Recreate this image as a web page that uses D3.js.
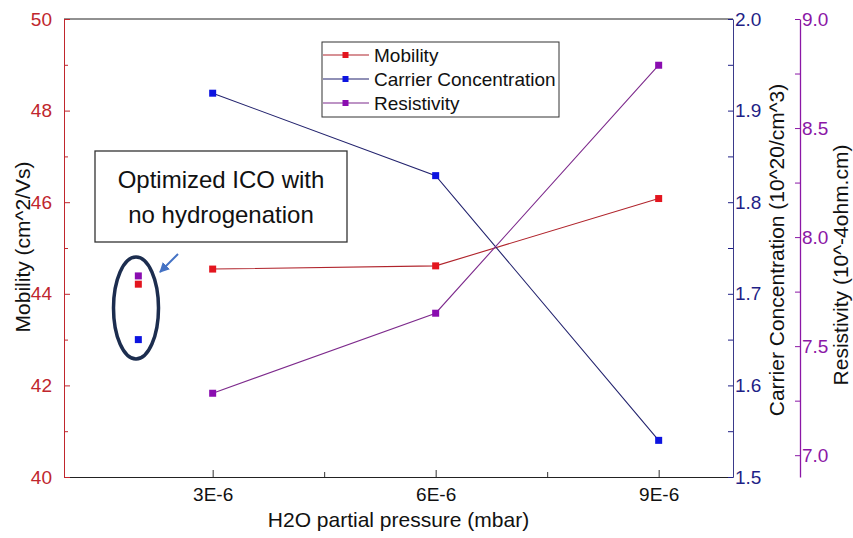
<!DOCTYPE html>
<html>
<head>
<meta charset="utf-8">
<script src="https://cdn.jsdelivr.net/npm/d3@7"></script>
<style>
  html, body { margin: 0; padding: 0; background: #fff; }
  svg { display: block; }
  text { font-family: "Liberation Sans", Arial, sans-serif; }
</style>
</head>
<body>
<svg id="chart" width="853" height="538"></svg>
<script>
// H2O partial pressure (units of 1E-6 mbar)
const pressures = [3, 6, 9];
const pressureTicks = [3, 6, 9];
const pressureTickLabels = ["3E-6", "6E-6", "9E-6"];

// Measured series
const mobility = [44.54, 44.61, 46.08];            // cm^2/Vs
const carrierConcentration = [1.919, 1.829, 1.540]; // 10^20/cm^3
const resistivity = [7.284, 7.651, 8.788];          // 10^-4 ohm.cm

// Reference sample (optimized ICO, no hydrogenation), plotted at 2E-6
const referencePressure = 2;
const referenceMobility = 44.21;
const referenceCarrier = 1.650;
const referenceResistivity = 7.822;

const mobilityTicks = [40, 42, 44, 46, 48, 50];
const carrierTicks = [1.5, 1.6, 1.7, 1.8, 1.9, 2.0];
const resistivityTicks = [7.0, 7.5, 8.0, 8.5, 9.0];

const seriesNames = ["Mobility", "Carrier Concentration", "Resistivity"];

const svg = d3.select("#chart");

const plotLeft = 64, plotRight = 733, plotTop = 19, plotBottom = 477;
const resAxisX = 800;
const tickFont = 19, titleFont = 21;

const x = d3.scaleLinear().domain([1, 10]).range([plotLeft, plotRight]);
const yMob = d3.scaleLinear().domain([40, 50]).range([plotBottom, plotTop]);
const yCar = d3.scaleLinear().domain([1.5, 2.0]).range([plotBottom, plotTop]);
const yRes = d3.scaleLinear().domain([6.9, 9.0]).range([plotBottom, plotTop]);

const colors = {
  mobLine: "#b0242c", mobMark: "#e3151e", mobAxis: "#c0262d",
  carLine: "#23236e", carMark: "#0d14e0", carAxis: "#1f1f86",
  resLine: "#7d2a8c", resMark: "#8a0db0", resAxis: "#8b17a6"
};

// Frame: top line
svg.append("line").attr("x1", plotLeft).attr("x2", plotRight).attr("y1", plotTop).attr("y2", plotTop)
  .attr("stroke", "#222").attr("stroke-width", 1);

// X axis (ticks pointing up, inside the plot)
const xAxis = d3.axisBottom(x)
  .tickValues([3, 4.5, 6, 7.5, 9])
  .tickSizeInner(-6).tickSizeOuter(0)
  .tickFormat(d => { const i = pressureTicks.indexOf(d); return i >= 0 ? pressureTickLabels[i] : ""; });
const gx = svg.append("g").attr("transform", `translate(0,${plotBottom})`).call(xAxis);
gx.select(".domain").attr("stroke", "#222");
gx.selectAll(".tick line").attr("stroke", "#333")
  .attr("y2", d => pressureTicks.includes(d) ? -7 : -5);
gx.selectAll(".tick text").attr("y", 24).attr("dy", 0)
  .attr("font-size", tickFont).attr("fill", "#111")
  .attr("font-family", "Liberation Sans, Arial, sans-serif");

svg.append("text").attr("x", (plotLeft + plotRight) / 2).attr("y", 527)
  .attr("text-anchor", "middle").attr("font-size", titleFont).attr("fill", "#111")
  .text("H2O partial pressure (mbar)");

function styleAxis(g, color, fontSize) {
  g.select(".domain").attr("stroke", color);
  g.selectAll(".tick line").attr("stroke", color);
  g.selectAll(".tick text").attr("fill", color).attr("font-size", fontSize)
    .attr("font-family", "Liberation Sans, Arial, sans-serif");
}

// Left (mobility) axis, ticks inside
const mobAll = d3.range(40, 50.001, 1);
const gMob = svg.append("g").attr("transform", `translate(${plotLeft},0)`)
  .call(d3.axisLeft(yMob).tickValues(mobAll).tickSizeInner(-6).tickSizeOuter(0)
    .tickPadding(12)
    .tickFormat(d => mobilityTicks.includes(d) ? d3.format("d")(d) : ""));
styleAxis(gMob, colors.mobAxis, tickFont);
gMob.selectAll(".tick line").attr("x2", d => mobilityTicks.includes(d) ? 6 : 4);

svg.append("text").attr("transform", `translate(30,247) rotate(-90)`)
  .attr("text-anchor", "middle").attr("font-size", titleFont).attr("fill", "#111")
  .text("Mobility (cm^2/Vs)");

// Right (carrier concentration) axis, ticks pointing left
const carAll = d3.range(0, 11).map(i => +(1.5 + i * 0.05).toFixed(2));
const gCar = svg.append("g").attr("transform", `translate(${plotRight},0)`)
  .call(d3.axisRight(yCar).tickValues(carAll).tickSizeInner(-5).tickSizeOuter(0)
    .tickPadding(2)
    .tickFormat(d => carrierTicks.some(t => Math.abs(t - d) < 1e-9) ? d3.format(".1f")(d) : ""));
styleAxis(gCar, colors.carAxis, tickFont);
gCar.select(".domain").attr("stroke", "#3a3a8a");

svg.append("text").attr("transform", `translate(784,250) rotate(-90)`)
  .attr("text-anchor", "middle").attr("font-size", titleFont).attr("fill", "#111")
  .text("Carrier Concentration (10^20/cm^3)");

// Offset resistivity axis
const resAll = d3.range(0, 9).map(i => +(7.0 + i * 0.25).toFixed(2));
const gRes = svg.append("g").attr("transform", `translate(${resAxisX},0)`)
  .call(d3.axisRight(yRes).tickValues(resAll).tickSizeInner(-5).tickSizeOuter(0)
    .tickPadding(2)
    .tickFormat(d => resistivityTicks.some(t => Math.abs(t - d) < 1e-9) ? d3.format(".1f")(d) : ""));
styleAxis(gRes, colors.resAxis, tickFont);
gRes.select(".domain").attr("stroke-width", 1.3);

svg.append("text").attr("transform", `translate(848,265) rotate(-90)`)
  .attr("text-anchor", "middle").attr("font-size", titleFont).attr("fill", "#111")
  .text("Resistivity (10^-4ohm.cm)");

// Series lines and markers
function drawSeries(values, yScale, lineColor, markColor) {
  const pts = pressures.map((p, i) => [x(p), yScale(values[i])]);
  svg.append("path").attr("d", d3.line()(pts))
    .attr("fill", "none").attr("stroke", lineColor).attr("stroke-width", 1.1);
  svg.selectAll(null).data(pts).enter().append("rect")
    .attr("x", d => d[0] - 3.5).attr("y", d => d[1] - 3.5)
    .attr("width", 7).attr("height", 7).attr("fill", markColor);
}
drawSeries(mobility, yMob, colors.mobLine, colors.mobMark);
drawSeries(carrierConcentration, yCar, colors.carLine, colors.carMark);
drawSeries(resistivity, yRes, colors.resLine, colors.resMark);

// Reference sample markers
const refPts = [
  [x(referencePressure), yRes(referenceResistivity), colors.resMark],
  [x(referencePressure), yMob(referenceMobility), colors.mobMark],
  [x(referencePressure), yCar(referenceCarrier), colors.carMark]
];
svg.selectAll(null).data(refPts).enter().append("rect")
  .attr("x", d => d[0] - 3.5).attr("y", d => d[1] - 3.5)
  .attr("width", 7).attr("height", 7).attr("fill", d => d[2]);

// Ellipse around the reference sample
svg.append("ellipse").attr("cx", 136).attr("cy", 308).attr("rx", 22.5).attr("ry", 51)
  .attr("fill", "none").attr("stroke", "#1c2d4f").attr("stroke-width", 3.5);

// Arrow pointing at the reference sample
svg.append("defs").append("marker").attr("id", "arrowhead")
  .attr("viewBox", "0 0 10 10").attr("refX", 9).attr("refY", 5)
  .attr("markerWidth", 5).attr("markerHeight", 5).attr("orient", "auto")
  .attr("markerUnits", "strokeWidth")
  .append("path").attr("d", "M0,0 L10,5 L0,10 Z").attr("fill", "#4472c4");
svg.append("line").attr("x1", 178).attr("y1", 254).attr("x2", 160).attr("y2", 272)
  .attr("stroke", "#4472c4").attr("stroke-width", 2).attr("marker-end", "url(#arrowhead)");

// Annotation box
svg.append("rect").attr("x", 95).attr("y", 151).attr("width", 252).attr("height", 91)
  .attr("fill", "#fff").attr("stroke", "#333").attr("stroke-width", 1.3);
const note = svg.append("text").attr("text-anchor", "middle")
  .attr("font-family", "Open Sans, sans-serif").attr("font-size", 24).attr("fill", "#111");
note.append("tspan").attr("x", 221).attr("y", 188).text("Optimized ICO with");
note.append("tspan").attr("x", 221).attr("y", 223).text("no hydrogenation");

// Legend
const legend = svg.append("g");
legend.append("rect").attr("x", 322).attr("y", 42).attr("width", 237).attr("height", 75)
  .attr("fill", "#fff").attr("stroke", "#333").attr("stroke-width", 1);
const legendItems = [
  [colors.mobLine, colors.mobMark],
  [colors.carLine, colors.carMark],
  [colors.resLine, colors.resMark]
];
legendItems.forEach((c, i) => {
  const y = 55 + i * 24;
  legend.append("line").attr("x1", 323).attr("x2", 369).attr("y1", y).attr("y2", y)
    .attr("stroke", c[0]).attr("stroke-width", 1.1);
  legend.append("rect").attr("x", 342.5).attr("y", y - 3).attr("width", 6).attr("height", 6)
    .attr("fill", c[1]);
  legend.append("text").attr("x", 374).attr("y", y).attr("dy", "0.36em")
    .attr("font-size", 19).attr("fill", "#111").text(seriesNames[i]);
});
</script>
</body>
</html>
